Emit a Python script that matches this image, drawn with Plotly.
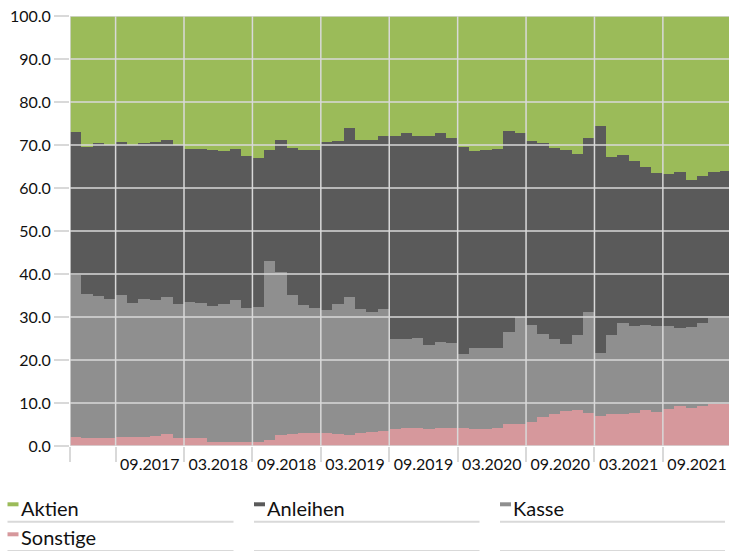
import pandas as pd
import plotly.graph_objects as go

# monthly allocation (percent), May 2017 .. Feb 2022
months = pd.date_range("2017-05-01", periods=58, freq="MS").strftime("%m.%Y").tolist()

sonstige = [2.1, 1.8, 1.9, 1.9, 2.1, 2.0, 2.0, 2.3, 2.9, 1.9,
            1.9, 1.9, 0.9, 1.0, 1.0, 1.0, 1.0, 1.4, 2.5, 2.9,
            3.1, 3.0, 3.1, 2.8, 2.5, 3.0, 3.3, 3.6, 4.0, 4.1,
            4.2, 3.9, 4.2, 4.2, 4.2, 3.9, 4.0, 4.2, 5.1, 5.1,
            5.6, 6.7, 7.5, 8.1, 8.3, 7.7, 6.9, 7.4, 7.5, 7.7,
            8.4, 7.9, 8.6, 9.3, 8.9, 9.4, 9.8, 9.8]
kasse = [37.7, 33.6, 33.0, 32.4, 33.0, 31.3, 32.3, 31.7, 31.7, 31.2,
         31.6, 31.4, 31.6, 32.1, 33.0, 31.0, 31.3, 41.7, 37.9, 32.3,
         29.8, 29.0, 28.6, 30.3, 32.2, 28.8, 27.9, 28.2, 21.0, 20.8,
         20.9, 19.7, 20.1, 19.7, 17.3, 18.9, 18.7, 18.7, 21.3, 24.8,
         22.5, 19.3, 17.4, 15.7, 17.4, 23.5, 14.8, 18.5, 21.0, 20.1,
         19.7, 20.1, 19.2, 18.2, 18.8, 19.3, 20.0, 19.9]
anleihen = [33.3, 34.2, 35.5, 35.7, 35.5, 36.8, 36.1, 36.6, 36.6, 36.8,
            35.6, 35.8, 36.3, 35.4, 35.1, 35.5, 34.7, 25.7, 30.8, 34.1,
            35.9, 36.8, 38.9, 37.8, 39.3, 39.4, 40.0, 40.3, 47.1, 47.9,
            46.9, 48.5, 48.4, 47.7, 48.1, 45.9, 46.1, 46.1, 46.8, 43.0,
            42.8, 44.5, 44.4, 45.0, 42.3, 40.4, 52.7, 41.3, 39.2, 38.5,
            36.7, 35.5, 35.5, 36.2, 34.2, 34.1, 33.9, 34.3]
aktien = [26.9, 30.4, 29.6, 30.0, 29.4, 29.9, 29.6, 29.4, 28.8, 30.1,
          30.9, 30.9, 31.2, 31.5, 30.9, 32.5, 33.0, 31.2, 28.8, 30.7,
          31.2, 31.2, 29.4, 29.1, 26.0, 28.8, 28.8, 27.9, 27.9, 27.2,
          28.0, 27.9, 27.3, 28.4, 30.4, 31.3, 31.2, 31.0, 26.8, 27.1,
          29.1, 29.5, 30.7, 31.2, 32.0, 28.4, 25.6, 32.8, 32.3, 33.7,
          35.2, 36.5, 36.7, 36.3, 38.1, 37.2, 36.3, 36.0]

tick_labels = ["09.2017", "03.2018", "09.2018", "03.2019", "09.2019",
               "03.2020", "09.2020", "03.2021", "09.2021"]

series = [("Sonstige", sonstige, "#d6989c"),
          ("Kasse", kasse, "#8f8f8f"),
          ("Anleihen", anleihen, "#5a5a5a"),
          ("Aktien", aktien, "#9bbb59")]

legend_order = ["Aktien", "Anleihen", "Kasse", "Sonstige"]

W, H = 729, 551
L, R, T, B = 70, 0, 16, 105
GRID = "#d9d9d9"
FONT = "Lato"

x = list(range(len(months)))
fig = go.Figure()
for name, vals, color in series:
    fig.add_trace(go.Bar(x=x, y=vals, name=name, width=1,
                         marker=dict(color=color, line=dict(width=0)),
                         customdata=months,
                         hovertemplate="%{customdata}: %{y:.1f}<extra>" + name + "</extra>"))

label_pos = [months.index(t) + 2.5 for t in tick_labels]
bounds = [-0.5] + [months.index(t) - 0.5 for t in tick_labels]

# gridlines drawn above the bars
shapes = []
for b in bounds:
    shapes.append(dict(type="line", xref="x", yref="y", x0=b, x1=b, y0=0, y1=100,
                       line=dict(color=GRID, width=1.5), layer="above"))
for v in range(0, 101, 10):
    shapes.append(dict(type="line", xref="paper", yref="y", x0=0, x1=1, y0=v, y1=v,
                       line=dict(color=GRID, width=1.5), layer="above"))


def px(p):
    return (p - L) / (W - L - R)


def py(p):
    return (H - B - p) / (H - T - B)


colors = {n: c for n, _, c in series}
annotations = []
cols = [(7.5, 233.5), (254, 479.5), (500, 725)]
for i, name in enumerate(legend_order):
    r, c = divmod(i, 3)
    x0, x1 = cols[c]
    mtop = 502.3 + r * 30
    shapes.append(dict(type="rect", xref="paper", yref="paper",
                       x0=px(x0), x1=px(x0 + 11), y0=py(mtop), y1=py(mtop + 4),
                       fillcolor=colors[name], line=dict(width=0)))
    annotations.append(dict(text=name, xref="paper", yref="paper", x=px(x0 + 11),
                            y=py(507.5 + r * 29.6), xanchor="left", yanchor="middle",
                            showarrow=False, font=dict(family=FONT, size=20, color="#111111")))
for r, (yy, w) in enumerate([(521.7, 2), (550.5, 1)]):
    for x0, x1 in cols:
        shapes.append(dict(type="line", xref="paper", yref="paper",
                           x0=px(x0), x1=px(x1), y0=py(yy), y1=py(yy),
                           line=dict(color=GRID, width=w)))

fig.update_layout(
    width=W, height=H,
    margin=dict(l=L, r=R, t=T, b=B),
    barmode="stack", bargap=0,
    showlegend=False,
    plot_bgcolor="white", paper_bgcolor="white",
    font=dict(family=FONT, size=16, color="#111111"),
    shapes=shapes, annotations=annotations,
    xaxis=dict(range=[-0.5, 57.3], tickmode="array", tickvals=label_pos, ticktext=tick_labels,
               ticks="", showgrid=False, zeroline=False, showline=False,
               ticklabelstandoff=7,
               minor=dict(tickmode="array", tickvals=bounds, ticks="outside", ticklen=15,
                          tickwidth=1.5, tickcolor=GRID, showgrid=False)),
    yaxis=dict(range=[0, 100], tickmode="array", tickvals=list(range(0, 101, 10)),
               tickformat=".1f", ticks="outside", ticklen=15, tickwidth=1.5, tickcolor=GRID,
               showgrid=False, zeroline=False, showline=False),
)

fig.write_html("out.html", config={"displayModeBar": False})

# drop the browser's default body margin so the chart sits at the page corner
with open("out.html", encoding="utf-8") as f:
    page = f.read()
page = page.replace("<head>", "<head><style>body{margin:0;overflow:hidden}</style>", 1)
with open("out.html", "w", encoding="utf-8") as f:
    f.write(page)
